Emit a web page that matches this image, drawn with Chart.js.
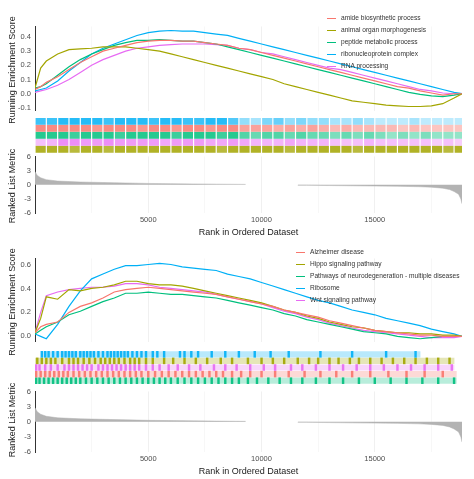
<!DOCTYPE html>
<html><head><meta charset="utf-8">
<script src="https://cdn.jsdelivr.net/npm/chart.js@4"></script>
<style>
body{margin:0;background:#fff;width:474px;height:479px;position:relative;overflow:hidden;font-family:"Liberation Sans",Arial,sans-serif}
.c{position:absolute;left:0;width:474px}
.lg{position:absolute;font-size:6.6px;color:#333;white-space:nowrap}
.lg div{height:12px;line-height:12px;position:relative}
.lg span{display:inline-block;width:9px;height:1.5px;vertical-align:middle;margin-right:5px}
.yt{position:absolute;font-size:9px;color:#222;white-space:nowrap;transform:translate(-50%,-50%) rotate(-90deg)}
</style></head><body>
<div class="c" style="top:20px;height:97px"><canvas id="es1"></canvas></div>
<div class="c" style="top:118px;height:35px"><canvas id="rug1"></canvas></div>
<div class="c" style="top:150px;height:90px"><canvas id="m1"></canvas></div>
<div class="c" style="top:252px;height:96px"><canvas id="es2"></canvas></div>
<div class="c" style="top:351px;height:33px"><canvas id="rug2"></canvas></div>
<div class="c" style="top:385px;height:94px"><canvas id="m2"></canvas></div>
<div class="yt" style="left:12px;top:70px">Running Enrichment Score</div>
<div class="yt" style="left:12px;top:186px">Ranked List Metric</div>
<div class="yt" style="left:12px;top:302px">Running Enrichment Score</div>
<div class="yt" style="left:12px;top:420px">Ranked List Metric</div>
<div class="lg" id="lg1" style="left:327px;top:12px"></div>
<div class="lg" id="lg2" style="left:296px;top:246px"></div>
<script>
const ranks=[0,250,500,1000,1500,2000,2500,3000,3500,4000,4500,5000,5500,6000,6500,7000,7500,8000,8500,9000,9500,10000,10500,11000,11500,12000,12500,13000,13500,14000,14500,15000,15500,16000,16500,17000,17500,18000,18500,18850];
const colors=['#F8766D','#A3A500','#00BF7D','#00B0F6','#E76BF3'];
// Top panel
const top_names=['amide biosynthetic process','animal organ morphogenesis','peptide metabolic process','ribonucleoprotein complex','RNA processing'];
const amide=[0.03,0.05,0.08,0.12,0.17,0.22,0.26,0.30,0.32,0.34,0.36,0.37,0.375,0.375,0.37,0.37,0.36,0.35,0.34,0.32,0.31,0.29,0.27,0.25,0.23,0.21,0.19,0.17,0.15,0.13,0.11,0.09,0.07,0.05,0.04,0.02,0.005,-0.01,0.0,0];
const animal=[0.04,0.18,0.23,0.28,0.31,0.315,0.32,0.33,0.33,0.33,0.32,0.31,0.30,0.28,0.26,0.24,0.22,0.20,0.18,0.16,0.14,0.12,0.10,0.07,0.05,0.03,0.01,-0.01,-0.03,-0.05,-0.06,-0.07,-0.08,-0.085,-0.09,-0.09,-0.085,-0.07,-0.03,0];
const peptide=[0.04,0.05,0.07,0.13,0.19,0.24,0.28,0.31,0.34,0.36,0.375,0.375,0.38,0.375,0.37,0.37,0.36,0.35,0.33,0.31,0.29,0.27,0.25,0.23,0.21,0.19,0.17,0.15,0.13,0.11,0.09,0.07,0.05,0.03,0.01,-0.005,-0.015,-0.02,-0.01,0];
const ribonuc=[0.02,0.03,0.04,0.09,0.16,0.22,0.28,0.32,0.35,0.38,0.41,0.43,0.44,0.445,0.44,0.44,0.43,0.42,0.41,0.39,0.37,0.35,0.33,0.31,0.29,0.27,0.25,0.23,0.21,0.19,0.17,0.15,0.13,0.11,0.09,0.07,0.05,0.03,0.01,0];
const rnaproc=[0.01,0.02,0.03,0.06,0.10,0.15,0.20,0.24,0.27,0.30,0.32,0.33,0.34,0.345,0.35,0.35,0.35,0.345,0.34,0.32,0.31,0.29,0.28,0.26,0.24,0.22,0.20,0.18,0.17,0.15,0.13,0.11,0.09,0.07,0.05,0.03,0.02,0.005,0.0,0];
// Bottom panel
const bot_names=['Alzheimer disease','Hippo signaling pathway','Pathways of neurodegeneration - multiple diseases','Ribosome','Wnt signaling pathway'];
const alz=[0.03,0.08,0.10,0.12,0.20,0.25,0.28,0.32,0.37,0.39,0.40,0.41,0.40,0.39,0.38,0.37,0.36,0.35,0.33,0.31,0.29,0.27,0.25,0.22,0.20,0.18,0.16,0.13,0.11,0.09,0.07,0.05,0.04,0.03,0.02,0.01,0.01,0.0,0.0,0];
const hippo=[0.03,0.15,0.33,0.31,0.39,0.38,0.40,0.41,0.43,0.46,0.46,0.44,0.43,0.43,0.42,0.40,0.38,0.36,0.34,0.32,0.30,0.28,0.25,0.22,0.20,0.17,0.15,0.12,0.10,0.08,0.07,0.05,0.04,0.03,0.03,0.02,0.02,0.01,0.01,0];
const neuro=[0.02,0.05,0.08,0.12,0.18,0.21,0.25,0.29,0.32,0.36,0.36,0.37,0.36,0.35,0.35,0.34,0.33,0.32,0.30,0.28,0.26,0.24,0.22,0.19,0.17,0.14,0.12,0.10,0.08,0.06,0.04,0.03,0.02,0.0,-0.01,-0.02,-0.01,0.0,0.0,0];
const ribosome=[0.02,0.0,-0.02,0.10,0.25,0.38,0.48,0.52,0.56,0.59,0.59,0.60,0.61,0.60,0.58,0.57,0.56,0.55,0.52,0.50,0.48,0.45,0.42,0.39,0.36,0.33,0.30,0.28,0.25,0.22,0.20,0.18,0.15,0.13,0.11,0.09,0.06,0.04,0.02,0];
const wnt=[0.03,0.20,0.34,0.37,0.39,0.40,0.41,0.41,0.42,0.44,0.44,0.43,0.41,0.40,0.39,0.38,0.37,0.35,0.33,0.31,0.29,0.27,0.24,0.21,0.19,0.16,0.14,0.11,0.09,0.07,0.05,0.04,0.03,0.02,0.01,0.0,-0.01,-0.01,-0.01,0];
// Ranked list metric
const metricRanks=[0,100,250,500,1000,2000,3000,4000,5000,6000,7000,8000,9300,9301,11599,11600,12000,13000,14000,15000,16000,17000,17500,18000,18300,18500,18700,18800,18850];
const metricVals=[2.8,2.0,1.5,1.1,0.8,0.6,0.5,0.4,0.3,0.25,0.2,0.15,0.1,null,null,-0.1,-0.1,-0.15,-0.2,-0.25,-0.3,-0.4,-0.5,-0.7,-1,-1.4,-2,-3,-4];
// Top rug: hit intensity per 500-rank bin (rows: ribonuc, amide, peptide, RNA, animal)
const rugTopBlue=[0.9,0.9,1,1,1,1,0.9,1,1,1,0.9,1,1,0.9,0.9,1,1,0.8,0.5,0.4,0.6,0.7,0.5,0.6,0.5,0.5,0.4,0.4,0.5,0.4,0.3,0.3,0.3,0.4,0.3,0.3,0.3,0.3];
const rugTopRed=[1,1,1,1,1,0.9,1,1,1,0.9,1,1,0.9,1,1,0.9,1,1,0.8,0.8,0.8,0.7,0.8,0.7,0.8,0.7,0.6,0.7,0.6,0.6,0.6,0.6,0.5,0.6,0.5,0.5,0.5,0.5];
const rugTopGreen=[1,1,1,0.9,1,1,1,0.9,1,1,1,1,0.9,1,1,1,0.9,1,0.8,0.7,0.8,0.8,0.7,0.8,0.7,0.7,0.6,0.7,0.6,0.7,0.6,0.5,0.6,0.5,0.6,0.5,0.5,0.5];
const rugTopPink=[0.5,0.6,0.9,0.9,0.8,0.8,0.9,0.8,0.8,0.8,0.8,0.7,0.8,0.8,0.8,0.7,0.7,0.8,0.7,0.6,0.6,0.6,0.7,0.6,0.6,0.6,0.5,0.5,0.5,0.6,0.5,0.5,0.5,0.5,0.5,0.4,0.5,0.4];
const rugTopOlive=[1,1,1,0.9,1,1,0.9,1,1,1,1,1,1,1,1,1,0.9,1,1,1,1,1,0.9,1,1,1,1,1,0.9,1,1,1,1,1,1,1,0.9,1];
// Bottom rug: hit ranks and light band extent [start,end]
const hitRibosome=[300,450,600,800,1000,1200,1350,1500,1650,1800,2000,2150,2300,2450,2600,2800,3000,3200,3350,3500,3650,3800,3950,4100,4300,4500,4700,4900,5200,5400,5700,6400,6600,6900,7200,7800,8400,9000,9700,10400,11200,12600,14000,15500,16800];
const hitHippo=[100,300,500,700,900,1200,1500,1700,1900,2150,2400,2650,2900,3100,3300,3500,3700,3950,4200,4400,4600,4900,5200,5700,6100,6600,7100,7600,8200,8700,9400,10000,10500,11000,11600,12100,12500,13000,13400,13900,14300,14800,15300,15800,16300,16800,17300,17800,18300];
const hitWnt=[50,200,450,700,1000,1300,1500,1700,1900,2100,2300,2500,2800,3000,3200,3400,3600,3800,4000,4200,4400,4600,4900,5200,5500,5900,6300,6800,7300,7900,8400,8900,9500,10100,10600,11300,11800,12400,13000,13600,14200,14800,15400,16000,16600,17200,17800,18400];
const hitAlz=[50,250,450,650,850,1050,1250,1450,1700,1950,2200,2450,2700,2950,3200,3450,3700,3950,4200,4450,4700,5000,5300,5600,5900,6200,6500,6800,7100,7400,7700,8000,8300,8700,9100,9500,10000,10600,11200,11900,12600,13300,14000,14800,15600,16400,17200,18000];
const hitNeuro=[50,200,400,600,800,1000,1200,1400,1600,1800,2000,2250,2500,2750,3000,3250,3500,3750,4000,4250,4500,4750,5000,5250,5500,5750,6000,6300,6600,6900,7200,7500,7800,8100,8400,8700,9000,9400,9800,10300,10800,11300,11800,12400,13000,13600,14300,15000,15700,16400,17100,17800,18500];
const bandRibosome=[300,17000], bandHippo=[0,18500], bandWnt=[0,18500], bandAlz=[0,18600], bandNeuro=[0,18600];
const xTicks=[5000,10000,15000];
const XMAX=18850;

Chart.defaults.font.family='"Liberation Sans",Arial,sans-serif';
Chart.defaults.animation=false;
const LEFT=35, RIGHT=12;
function hexA(h,a){const n=parseInt(h.slice(1),16);return `rgba(${n>>16},${(n>>8)&255},${n&255},${a})`;}
function xScale(showTicks){
  return {type:'linear',min:0,max:XMAX,display:true,
    afterBuildTicks:s=>{const t=[];for(let v=2500;v<XMAX;v+=2500)t.push({value:v});s.ticks=t;},
    ticks:{display:showTicks,color:'#4d4d4d',font:{size:7.5},autoSkip:false,maxRotation:0,padding:2,
      callback:v=>xTicks.includes(v)?String(v):''},
    grid:{color:c=>c.tick&&c.tick.value%5000===0?'#e6e6e6':'#f2f2f2',drawTicks:false,lineWidth:0.6},
    border:{display:false},
    title:{display:showTicks,text:'Rank in Ordered Dataset',color:'#222',font:{size:9},padding:{top:1,bottom:0}}};
}
function yAxis(min,max,tickArr,showBorder,fmt){
  return {min,max,afterFit:s=>{s.width=LEFT;},
    afterBuildTicks:s=>{s.ticks=tickArr.map(v=>({value:v}));},
    ticks:{display:tickArr.length>0,color:'#4d4d4d',font:{size:7.5},padding:2,callback:fmt||(v=>String(v))},
    grid:{display:false,drawTicks:tickArr.length>0,tickLength:2},
    border:{display:showBorder,color:'#333',width:1},
    title:{display:false}};
}
const baseOpts=(scales,pad)=>({responsive:true,maintainAspectRatio:false,layout:{padding:Object.assign({left:0,right:RIGHT,top:0,bottom:0},pad||{})},
  plugins:{legend:{display:false},tooltip:{enabled:false}},scales});
function esChart(id,names,series,min,max,ticks){
  new Chart(document.getElementById(id),{type:'line',
    data:{datasets:series.map((s,i)=>({label:names[i],data:ranks.map((r,j)=>({x:r,y:s[j]})),borderColor:colors[i],borderWidth:1.2,pointRadius:0,tension:0}))},
    options:baseOpts({x:xScale(false),y:yAxis(min,max,ticks,true,v=>v.toFixed(1))})});
}
function metricChart(id){
  new Chart(document.getElementById(id),{type:'line',
    data:{datasets:[{data:metricRanks.map((r,i)=>({x:r,y:metricVals[i]})),fill:'origin',backgroundColor:'#b3b3b3',borderColor:'#b3b3b3',borderWidth:0.5,pointRadius:0,spanGaps:false}]},
    options:baseOpts({x:xScale(true),y:yAxis(-6,6,[-6,-3,0,3,6],true)},{top:4,bottom:2})});
}
const rugX={type:'linear',min:0,max:XMAX,display:false,offset:false};
function rugBins(id,rows){
  const ds=rows.map((r,k)=>({data:r.vals.map((v,i)=>({x:i*500+250,y:[rows.length-k-1+0.08,rows.length-k-0.02]})),
    backgroundColor:r.vals.map(v=>hexA(r.color,v*0.85)),barThickness:9.5,grouped:false}));
  new Chart(document.getElementById(id),{type:'bar',data:{datasets:ds},
    options:baseOpts({x:rugX,y:Object.assign(yAxis(0,rows.length,[],false),{display:true})})});
}
function rugHits(id,rows){
  const ds=[];
  rows.forEach((r,k)=>{
    ds.push({data:r.hits.map(h=>({x:h,y:[rows.length-k-1+0.05,rows.length-k-0.05]})),backgroundColor:hexA(r.color,0.9),barThickness:1.8,grouped:false});
    ds.push({data:[{x:[r.band[0],r.band[1]],y:rows.length-k-0.5}],backgroundColor:hexA(r.color,0.28),indexAxis:'y',barPercentage:1,categoryPercentage:1,barThickness:5.5,grouped:false});
  });
  new Chart(document.getElementById(id),{type:'bar',data:{datasets:ds},
    options:baseOpts({x:rugX,y:Object.assign(yAxis(0,rows.length,[],false),{display:true})})});
}
function legend(id,names){
  document.getElementById(id).innerHTML=names.map((n,i)=>`<div><span style="background:${colors[i]}"></span>${n}</div>`).join('');
}
esChart('es1',top_names,[amide,animal,peptide,ribonuc,rnaproc],-0.118,0.473,[-0.1,0,0.1,0.2,0.3,0.4]);
esChart('es2',bot_names,[alz,hippo,neuro,ribosome,wnt],-0.043,0.65,[0,0.2,0.4,0.6]);
rugBins('rug1',[{vals:rugTopBlue,color:colors[3]},{vals:rugTopRed,color:colors[0]},{vals:rugTopGreen,color:colors[2]},{vals:rugTopPink,color:colors[4]},{vals:rugTopOlive,color:colors[1]}]);
rugHits('rug2',[{hits:hitRibosome,band:bandRibosome,color:colors[3]},{hits:hitHippo,band:bandHippo,color:colors[1]},{hits:hitWnt,band:bandWnt,color:colors[4]},{hits:hitAlz,band:bandAlz,color:colors[0]},{hits:hitNeuro,band:bandNeuro,color:colors[2]}]);
metricChart('m1');metricChart('m2');
legend('lg1',top_names);legend('lg2',bot_names);
</script></body></html>
